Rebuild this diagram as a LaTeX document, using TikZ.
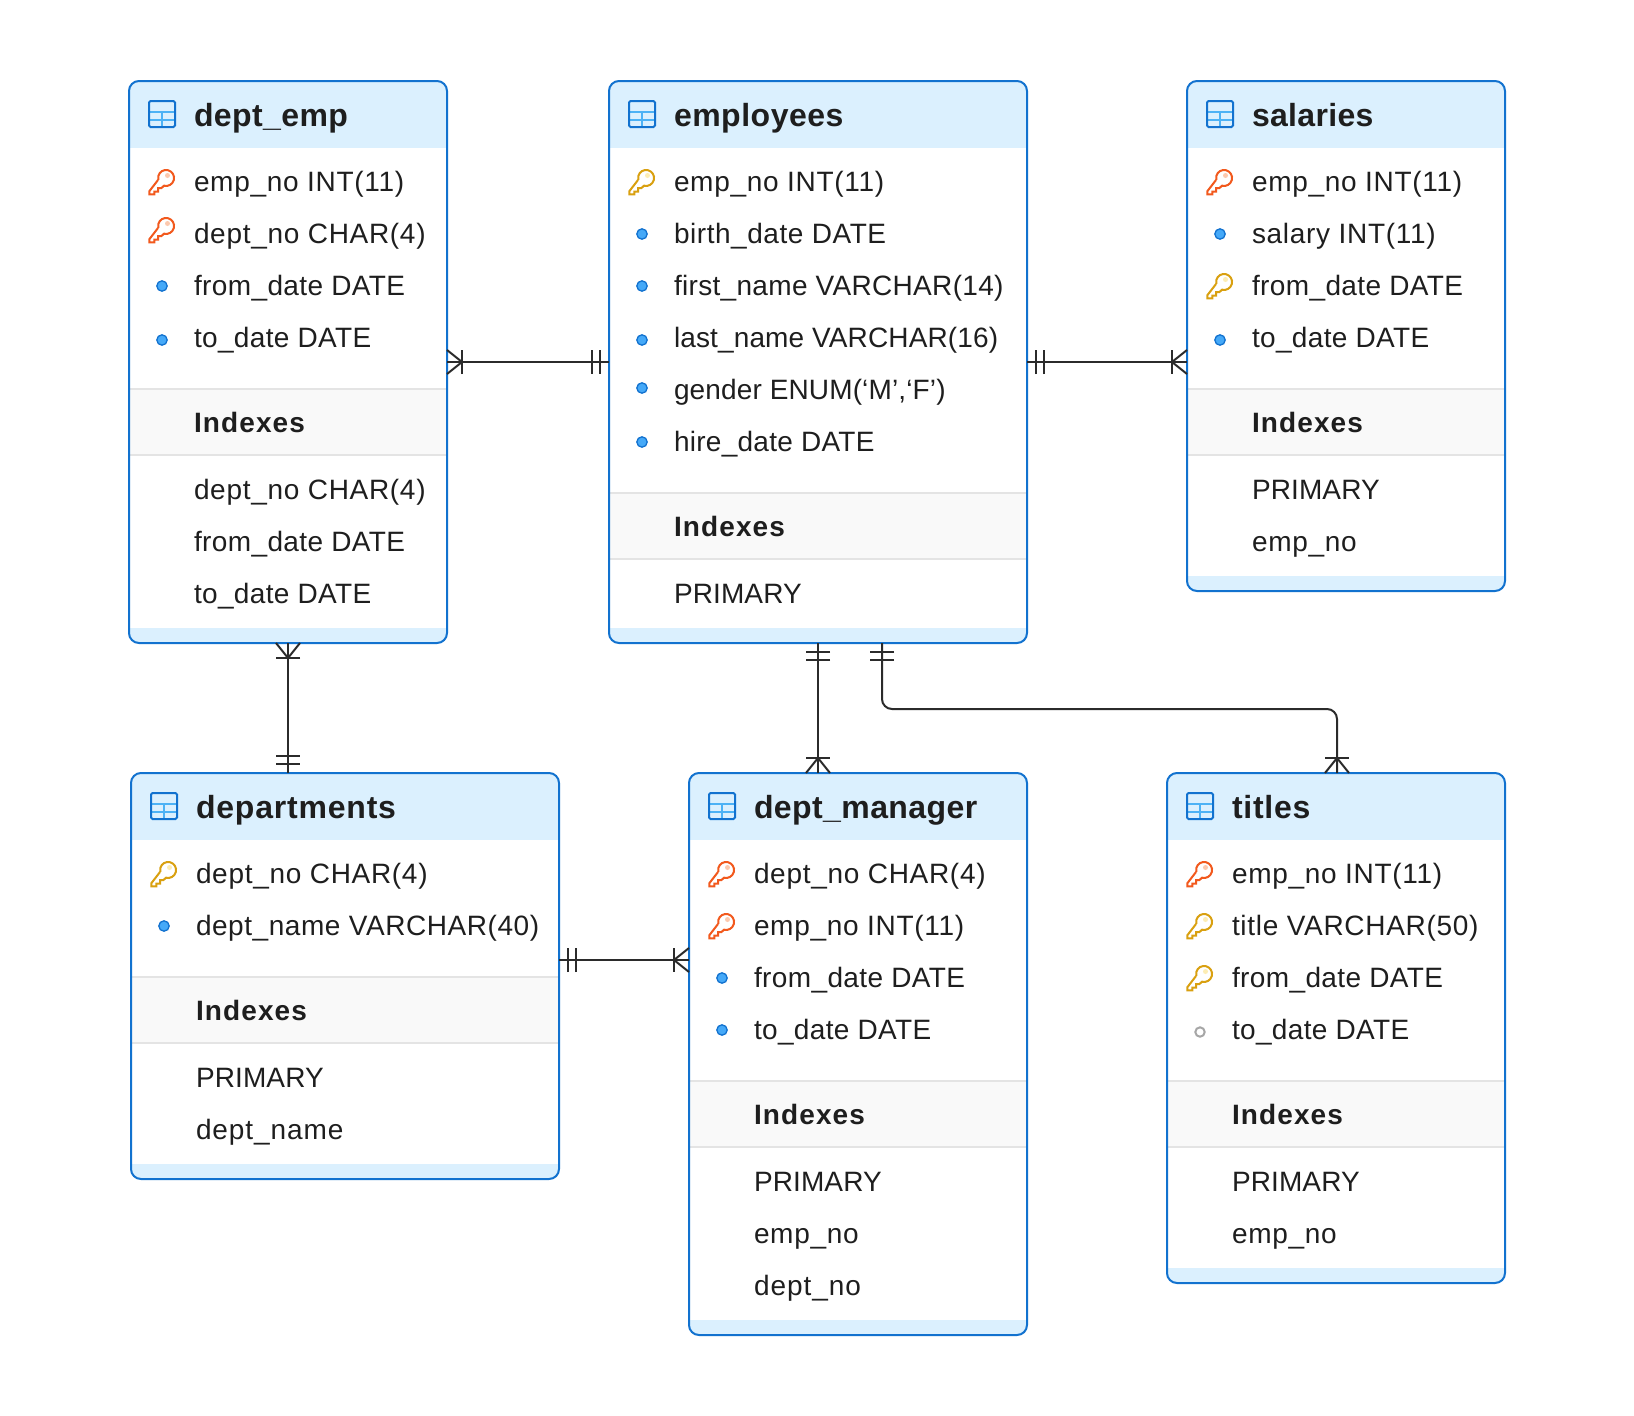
\documentclass[tikz,border=0pt]{standalone}
\usepackage{fontspec}
\usetikzlibrary{calc}
\newfontfamily\bodyfont{Liberation Sans}[LetterSpace=2.5]
\newfontfamily\headfont{Liberation Sans}[LetterSpace=1.3]
\newfontfamily\idxfont{Liberation Sans}[LetterSpace=4]
\newcommand{\ls}[1]{\addfontfeature{LetterSpace=#1}}
\definecolor{edge}{HTML}{1272CF}
\definecolor{headfill}{HTML}{DBF0FE}
\definecolor{bandfill}{HTML}{F9F9F9}
\definecolor{bandline}{HTML}{E4E4E4}
\definecolor{ink}{HTML}{1E1E1E}
\definecolor{relink}{HTML}{2B2B2B}
\definecolor{fkcol}{HTML}{F2591D}
\definecolor{fkdot}{HTML}{FCC9AE}
\definecolor{pkcol}{HTML}{D9A010}
\definecolor{pkdot}{HTML}{FDEDB4}
\definecolor{dotfill}{HTML}{45A9F8}
\definecolor{dotline}{HTML}{1272CF}
\definecolor{gridlight}{HTML}{4DB2F5}
\tikzset{
  x=1pt,y=-1pt,
  tablebox/.style={draw=edge,line width=2pt,rounded corners=10pt,inner sep=0pt,outer sep=0pt,anchor=north west},
  rowtext/.style={anchor=base west,inner sep=0pt,outer sep=0pt,text=ink,font=\bodyfont\fontsize{28}{32}\selectfont},
  idxhead/.style={anchor=base west,inner sep=0pt,outer sep=0pt,text=ink,font=\idxfont\bfseries\fontsize{28}{32}\selectfont},
  titletext/.style={anchor=base west,inner sep=0pt,outer sep=0pt,text=ink,font=\headfont\bfseries\fontsize{32}{36}\selectfont},
  rel/.style={draw=relink,line width=2pt},
}
% icons: #1 x of the table's left edge, #2 y of the row centre
\newcommand{\keyshape}[4]{%
  \begin{scope}[shift={(#1+37,#2-4)}]
    \draw[#3,line width=2pt,line join=miter]
      (-8,2) -- (-16.7,13.3) -- (-16.7,16.3) -- (-11.7,16.3) -- (-11.7,13.5) -- (-8,13.5) -- (-8,10) -- (-4.5,10) -- (-2,7.7)
      arc[start angle=105,end angle=-194,radius=8];
    \fill[#4] (1.5,-2.5) circle[radius=2.5];
  \end{scope}}
\newcommand{\iconfk}[2]{\keyshape{#1}{#2}{fkcol}{fkdot}}
\newcommand{\iconpk}[2]{\keyshape{#1}{#2}{pkcol}{pkdot}}
\newcommand{\icondot}[2]{\fill[dotfill] (#1+33,#2) circle[radius=5.2];\draw[dotline,line width=1.3pt] (#1+33,#2) circle[radius=5.2];}
\newcommand{\iconopen}[2]{\draw[black!35,line width=2pt] (#1+33,#2) circle[radius=4.7];}
\newcommand{\tableglyph}[2]{%
  \draw[gridlight,line width=2pt] (#1+20,#2+31) -- (#1+46,#2+31) (#1+20,#2+39) -- (#1+46,#2+39) (#1+33,#2+31) -- (#1+33,#2+46);
  \draw[edge,line width=2pt,rounded corners=1.5pt] (#1+20,#2+20) rectangle (#1+46,#2+46);}
% #1 id, #2 x, #3 y, #4 width, #5 title, #6 number of fields, #7 number of indexes, #8 fields, #9 indexes
\newcommand{\erdtable}[9]{%
  \pgfmathsetmacro{\tabh}{198+52*(#6+#7)}
  \pgfmathsetmacro{\bandtop}{100+52*#6}
  \begin{scope}
    \clip[rounded corners=10pt] (#2,#3) rectangle ++(#4,\tabh);
    \fill[white] (#2,#3) rectangle ++(#4,\tabh);
    \fill[headfill] (#2,#3) rectangle ++(#4,67);
    \fill[bandfill] (#2,#3+\bandtop) rectangle ++(#4,66);
    \draw[bandline,line width=2pt] (#2,#3+\bandtop) -- ++(#4,0) (#2,#3+\bandtop+66) -- ++(#4,0);
    \fill[headfill] (#2,#3+\tabh-15) rectangle ++(#4,15);
  \end{scope}
  \node[tablebox,minimum width=#4pt,minimum height=\tabh pt] (#1) at (#2,#3) {};
  \tableglyph{#2}{#3}
  \node[titletext] (#1-title) at (#2+65,#3+45) {#5};
  \foreach \rk/\rd/\rt [count=\ri] in {#8}{
    \pgfmathsetmacro{\rowc}{#3+101+52*(\ri-1)}
    \pgfmathsetmacro{\rowi}{\rowc+\rd}
    \csname icon\rk\endcsname{#2}{\rowi}
    \node[rowtext] (#1-f\ri) at (#2+65,\rowc+9.8) {\rt};
  }
  \node[idxhead] (#1-idx) at (#2+65,#3+\bandtop+43) {Indexes};
  \foreach \rt [count=\ri] in {#9}{
    \pgfmathsetmacro{\rowc}{#3+\bandtop+101+52*(\ri-1)}
    \node[rowtext] (#1-i\ri) at (#2+65,\rowc+9.8) {\rt};
  }
}
% #1 coordinate on the border, #2 #3 outward unit vector
\newcommand{\crowfoot}[3]{%
  \draw[rel] ($(#1)+15*(#2,#3)+12*(#3,#2)$) -- ($(#1)+15*(#2,#3)-12*(#3,#2)$);
  \draw[rel] ($(#1)+12*(#3,#2)$) -- ($(#1)+15*(#2,#3)$) -- ($(#1)-12*(#3,#2)$);}
\newcommand{\onebar}[3]{%
  \draw[rel] ($(#1)+9*(#2,#3)+12*(#3,#2)$) -- ($(#1)+9*(#2,#3)-12*(#3,#2)$);
  \draw[rel] ($(#1)+17*(#2,#3)+12*(#3,#2)$) -- ($(#1)+17*(#2,#3)-12*(#3,#2)$);}
\newcommand{\fromd}{{\ls{1.4}from\_date DATE}}
\newcommand{\tod}{{\ls{1.25}to\_date DATE}}
\newcommand{\prim}{{\ls{0.45}PRIMARY}}
\begin{document}
\begin{tikzpicture}
\useasboundingbox (0,0) rectangle (1634,1416);
\fill[white] (0,0) rectangle (1634,1416);

\erdtable{deptemp}{129}{81}{318}{dept\_emp}{4}{3}
 {fk/0/{emp\_no INT(11)},fk/-4/{dept\_no CHAR(4)},dot/0/{\fromd},dot/2/{\tod}}
 {{dept\_no CHAR(4)},{\fromd},{\tod}}
\erdtable{employees}{609}{81}{418}{{\ls{1.6}employees}}{6}{1}
 {pk/0/{emp\_no INT(11)},dot/0/{{\ls{2}birth\_date DATE}},dot/0/{{\ls{1.15}first\_name VARCHAR(14)}},dot/2/{{\ls{0.5}last\_name VARCHAR(16)}},dot/-2/{{\ls{0.5}gender ENUM(‘M’,‘F’)}},dot/0/{{\ls{1}hire\_date DATE}}}
 {{\prim}}
\erdtable{salaries}{1187}{81}{318}{{\ls{1}salaries}}{4}{2}
 {fk/0/{emp\_no INT(11)},dot/0/{salary INT(11)},pk/0/{\fromd},dot/2/{\tod}}
 {{\prim},{emp\_no}}
\erdtable{departments}{131}{773}{428}{{\ls{2.5}departments}}{2}{2}
 {pk/0/{dept\_no CHAR(4)},dot/0/{{\ls{2}dept\_name VARCHAR(40)}}}
 {{\prim},{{\ls{3.3}dept\_name}}}
\erdtable{deptmanager}{689}{773}{338}{dept\_manager}{4}{3}
 {fk/0/{dept\_no CHAR(4)},fk/0/{emp\_no INT(11)},dot/0/{\fromd},dot/0/{\tod}}
 {{\prim},{emp\_no},{{\ls{3.5}dept\_no}}}
\erdtable{titles}{1167}{773}{338}{{\ls{2.3}titles}}{4}{2}
 {fk/0/{emp\_no INT(11)},pk/0/{title VARCHAR(50)},pk/0/{\fromd},open/2/{\tod}}
 {{\prim},{emp\_no}}

\coordinate (a1) at ($(deptemp.north east)+(0,281)$);
\coordinate (a2) at ($(employees.north west)+(0,281)$);
\draw[rel] (a1) -- (a2);
\crowfoot{a1}{1}{0}\onebar{a2}{-1}{0}

\coordinate (b1) at ($(employees.north east)+(0,281)$);
\coordinate (b2) at ($(salaries.north west)+(0,281)$);
\draw[rel] (b1) -- (b2);
\onebar{b1}{1}{0}\crowfoot{b2}{-1}{0}

\coordinate (c1) at ($(deptemp.south west)+(159,0)$);
\coordinate (c2) at ($(departments.north west)+(157,0)$);
\draw[rel] (c1) -- (c2);
\crowfoot{c1}{0}{1}\onebar{c2}{0}{-1}

\coordinate (d1) at ($(employees.south west)+(209,0)$);
\coordinate (d2) at ($(deptmanager.north west)+(129,0)$);
\draw[rel] (d1) -- (d2);
\onebar{d1}{0}{1}\crowfoot{d2}{0}{-1}

\coordinate (e1) at ($(employees.south west)+(273,0)$);
\coordinate (e2) at ($(titles.north west)+(170,0)$);
\draw[rel,rounded corners=10pt] (e1) -- ++(0,66) -| (e2);
\onebar{e1}{0}{1}\crowfoot{e2}{0}{-1}

\coordinate (f1) at ($(departments.north east)+(0,187)$);
\coordinate (f2) at ($(deptmanager.north west)+(0,187)$);
\draw[rel] (f1) -- (f2);
\onebar{f1}{1}{0}\crowfoot{f2}{-1}{0}
\end{tikzpicture}
\end{document}
